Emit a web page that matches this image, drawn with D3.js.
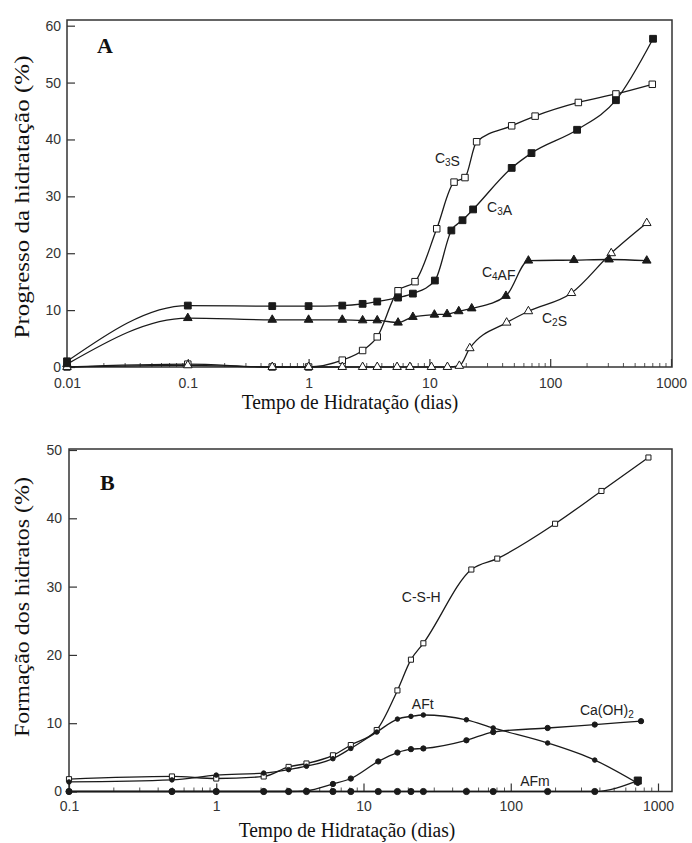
<!DOCTYPE html>
<html>
<head>
<meta charset="utf-8">
<script src="https://cdn.jsdelivr.net/npm/d3@7"></script>
<style>
  body { margin: 0; background: #fff; }
  svg { display: block; }
</style>
</head>
<body>
<svg id="chart" width="692" height="843"></svg>
<script>
// ---- Panel A: degree of hydration of the clinker phases (%) ----
const daysC3S  = [0.01, 0.1, 0.5, 1, 1.9, 2.8, 3.7, 5.5, 7.6, 11.5, 16, 19.7, 24.6, 48, 75, 171, 350, 700];
const hydC3S   = [0, 0.5, 0, 0, 1.2, 2.9, 5.3, 13.4, 15, 24.3, 32.5, 33.3, 39.6, 42.4, 44.1, 46.5, 48, 49.7];

const daysC3A  = [0.01, 0.1, 0.5, 1, 1.9, 2.8, 3.7, 5.5, 7.3, 11.1, 15.2, 18.8, 23, 48, 70, 167, 350, 710];
const hydC3A   = [1.0, 10.8, 10.7, 10.7, 10.8, 11.1, 11.5, 12.2, 12.9, 15.2, 24.0, 25.8, 27.7, 35.0, 37.6, 41.7, 46.9, 57.7];

const daysC4AF = [0.01, 0.1, 0.5, 1, 1.9, 2.8, 3.7, 5.5, 7.3, 11, 14, 17.5, 22.4, 43, 66, 157, 307, 630];
const hydC4AF  = [0.5, 8.6, 8.3, 8.3, 8.3, 8.2, 8.2, 7.8, 8.8, 9.2, 9.3, 9.8, 10.3, 12.5, 18.7, 18.8, 18.9, 18.7];

const daysC2S  = [0.01, 0.1, 0.5, 1, 1.9, 2.8, 3.7, 5.4, 6.9, 10.4, 14.1, 17.7, 21.6, 43.6, 66, 150, 320, 630];
const hydC2S   = [0, 0.3, 0, 0, 0, 0, 0, 0, 0, 0, 0, 0.2, 3.3, 7.8, 9.8, 13, 20, 25.3];

const xTicksA      = [0.01, 0.1, 1, 10, 100, 1000];
const xTickLabelsA = ["0.01", "0.1", "1", "10", "100", "1000"];
const yTicksA      = [0, 10, 20, 30, 40, 50, 60];

// ---- Panel B: formation of the hydrates (%) ----
const daysCSH  = [0.1, 0.5, 1, 2.1, 3.1, 4.1, 6.2, 8.2, 12.3, 17, 21, 25.5, 54, 81, 200, 413, 861];
const fracCSH  = [1.8, 2.2, 1.9, 2.2, 3.6, 4.1, 5.3, 6.8, 9.0, 14.8, 19.3, 21.7, 32.5, 34.1, 39.2, 44.0, 48.9];

const daysAFt  = [0.1, 0.5, 1, 2.1, 3.1, 4.1, 6.2, 8.2, 12.3, 17, 21, 25.5, 50, 76, 178, 372, 729];
const fracAFt  = [1.4, 1.7, 2.4, 2.7, 3.2, 3.7, 4.8, 6.3, 8.7, 10.6, 11.0, 11.2, 10.5, 9.3, 7.1, 4.6, 1.2];

const daysCH   = [0.1, 0.5, 1, 2.1, 3.1, 4.1, 6.2, 8.2, 12.6, 17, 21, 25.5, 50, 76, 178, 372, 767];
const fracCH   = [0, 0, 0, 0, 0, 0.1, 1.1, 1.9, 4.4, 5.7, 6.2, 6.3, 7.5, 8.7, 9.3, 9.8, 10.3];

const daysAFm  = [0.1, 0.5, 1, 2.1, 3.1, 4.1, 6.2, 8.2, 12.6, 17, 21, 25.5, 50, 76, 178, 372, 729];
const fracAFm  = [0, 0, 0, 0, 0, 0, 0, 0, 0, 0, 0, 0, 0, 0, 0, 0, 1.6];

const xTicksB      = [0.1, 1, 10, 100, 1000];
const xTickLabelsB = ["0.1", "1", "10", "100", "1000"];
const yTicksB      = [0, 10, 20, 30, 40, 50];

// ------------------------------------------------------------------
const svg = d3.select("#chart");
const INK = "#1a1a1a";
const SANS = "Liberation Sans, Arial, Helvetica, sans-serif";
const SERIF = "Liberation Serif, 'Times New Roman', Times, serif";

function zip(xs, ys) { return xs.map((x, i) => ({ x, y: ys[i], i, n: xs.length })); }

function drawPanel(cfg) {
  const g = svg.append("g");
  const x = d3.scaleLog().domain(cfg.xDomain).range(cfg.xRange);
  const y = d3.scaleLinear().domain(cfg.yDomain).range(cfg.yRange);
  const [L, R, T, B] = cfg.frame;

  // minor log ticks along the time axis (inward)
  const minors = [];
  const [d0, d1] = cfg.xDomain.map(Math.log10);
  for (let e = Math.floor(d0); e < Math.ceil(d1); e++) {
    for (let k = 2; k <= 9; k++) {
      const v = k * Math.pow(10, e);
      if (v > cfg.xDomain[0] && v < cfg.xDomain[1]) minors.push(v);
    }
  }
  g.append("g").attr("transform", `translate(0,${B})`)
    .call(d3.axisBottom(x).tickValues(minors).tickSize(-4).tickFormat(""))
    .call(a => a.select(".domain").remove())
    .call(a => a.selectAll("line").attr("stroke", "#555").attr("stroke-width", 1));

  const xa = g.append("g").attr("transform", `translate(0,${B})`)
    .call(d3.axisBottom(x).tickValues(cfg.xTicks).tickSize(-8).tickPadding(cfg.xPad)
      .tickFormat((d, i) => cfg.xLabels[i]));
  xa.select(".domain").remove();
  xa.selectAll("line").attr("stroke", "#333").attr("stroke-width", 1.2);
  xa.selectAll("text").attr("font-family", SANS).attr("font-size", 14).attr("fill", "#333");

  const ya = g.append("g").attr("transform", `translate(${L},0)`)
    .call(d3.axisLeft(y).tickValues(cfg.yTicks).tickSize(-8).tickPadding(cfg.yPad));
  ya.select(".domain").remove();
  ya.selectAll("line").attr("stroke", "#333").attr("stroke-width", 1.2);
  ya.selectAll("text").attr("font-family", SANS).attr("font-size", 14).attr("fill", "#333");

  // frame
  g.append("rect").attr("x", L).attr("y", T).attr("width", R - L).attr("height", B - T)
    .attr("fill", "none").attr("stroke", "#333").attr("stroke-width", 1.5);

  const line = d3.line().x(d => x(d.x)).y(d => y(d.y)).curve(d3.curveMonotoneX);

  cfg.series.forEach(s => {
    const pts = zip(s.days, s.vals);
    g.append("path").datum(pts).attr("d", line)
      .attr("fill", "none").attr("stroke", INK).attr("stroke-width", 1.3);
  });
  cfg.series.forEach(s => {
    const pts = zip(s.days, s.vals);
    g.append("g").selectAll("path").data(pts).join("path")
      .attr("transform", d => `translate(${x(d.x)},${y(d.y)})`)
      .attr("d", d => {
        const m = s.marker(d);
        return d3.symbol().type(m.type).size(m.size)();
      })
      .attr("fill", s.open ? "#fff" : INK)
      .attr("stroke", INK).attr("stroke-width", 1);
  });

  // curve annotations ("_" marks a subscript digit)
  cfg.labels.forEach(lb => {
    const t = g.append("text").attr("x", x(lb.at[0])).attr("y", y(lb.at[1]))
      .attr("font-family", SANS).attr("font-size", 14).attr("fill", "#222");
    lb.text.split(/(_\d)/).filter(p => p).forEach(p => {
      if (p.startsWith("_")) {
        t.append("tspan").text(p.slice(1)).attr("font-size", 10).attr("dy", 3);
        t.append("tspan").text("").attr("dy", -3);
      } else {
        t.append("tspan").text(p);
      }
    });
  });

  // panel letter
  g.append("text").attr("x", cfg.letterPos[0]).attr("y", cfg.letterPos[1])
    .attr("font-family", SERIF).attr("font-weight", "bold").attr("font-size", 22)
    .attr("fill", "#111").text(cfg.letter);

  // axis titles
  g.append("text")
    .attr("transform", `translate(${cfg.xTitlePos[0]},${cfg.xTitlePos[1]}) scale(1,1.12)`)
    .attr("text-anchor", "middle").attr("font-family", SERIF).attr("font-size", 19.5)
    .attr("fill", "#111").text("Tempo de Hidratação (dias)");
  g.append("text")
    .attr("transform", `translate(${cfg.yTitlePos[0]},${cfg.yTitlePos[1]}) rotate(-90)`)
    .attr("text-anchor", "middle").attr("font-family", SERIF).attr("font-size", 20)
    .attr("textLength", cfg.yTitleLen).attr("lengthAdjust", "spacingAndGlyphs")
    .attr("fill", "#111").text(cfg.yTitle);
}

const sq = (size) => () => ({ type: d3.symbolSquare, size });
const tri = (size) => () => ({ type: d3.symbolTriangle, size });
const dot = (size) => () => ({ type: d3.symbolCircle, size });

drawPanel({
  xDomain: [0.01, 1000], xRange: [67, 671],
  yDomain: [0, 61], yRange: [367, 20],
  frame: [67, 672, 20, 367],
  xTicks: xTicksA, xLabels: xTickLabelsA, yTicks: yTicksA,
  xPad: 11, yPad: 6,
  series: [
    { days: daysC3S,  vals: hydC3S,  open: true,  marker: sq(42) },
    { days: daysC2S,  vals: hydC2S,  open: true,  marker: tri(32) },
    { days: daysC3A,  vals: hydC3A,  open: false, marker: sq(46) },
    { days: daysC4AF, vals: hydC4AF, open: false, marker: tri(32) }
  ],
  labels: [
    { text: "C_3S",  at: [11.1, 35.9] },
    { text: "C_3A",  at: [30, 27.2] },
    { text: "C_4AF", at: [27.2, 15.8] },
    { text: "C_2S",  at: [85.5, 7.7] }
  ],
  letter: "A", letterPos: [97, 53],
  xTitlePos: [350, 409],
  yTitle: "Progresso da hidratação (%)", yTitlePos: [29, 197], yTitleLen: 283
});

drawPanel({
  xDomain: [0.1, 1000], xRange: [69, 658],
  yDomain: [0, 50], yRange: [791.5, 450],
  frame: [69, 672, 449, 791.5],
  xTicks: xTicksB, xLabels: xTickLabelsB, yTicks: yTicksB,
  xPad: 10, yPad: 7,
  series: [
    { days: daysCSH, vals: fracCSH, open: true,  marker: sq(26) },
    { days: daysAFt, vals: fracAFt, open: false, marker: dot(16) },
    { days: daysCH,  vals: fracCH,  open: false, marker: dot(22) },
    { days: daysAFm, vals: fracAFm, open: false,
      marker: d => d.i === d.n - 1 ? { type: d3.symbolSquare, size: 50 } : { type: d3.symbolCircle, size: 30 } }
  ],
  labels: [
    { text: "C-S-H",    at: [18.2, 27.7] },
    { text: "AFt",      at: [21.3, 12.1] },
    { text: "Ca(OH)_2", at: [295, 11.2] },
    { text: "AFm",      at: [116, 0.8] }
  ],
  letter: "B", letterPos: [100, 490],
  xTitlePos: [347, 837],
  yTitle: "Formação dos hidratos (%)", yTitlePos: [29, 607], yTitleLen: 260
});
</script>
</body>
</html>
